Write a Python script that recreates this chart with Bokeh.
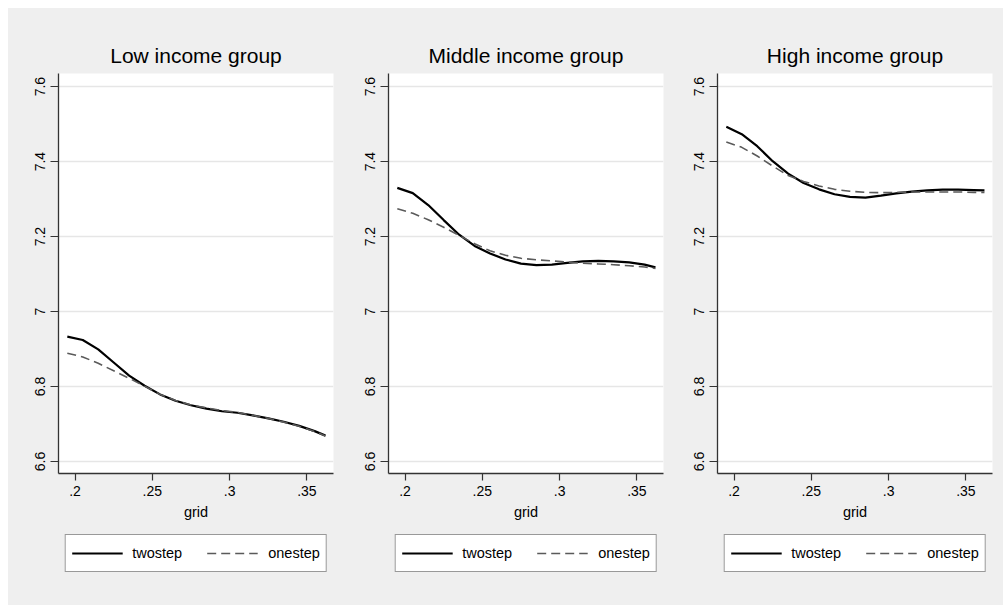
from bokeh.plotting import figure
from bokeh.layouts import row, column
from bokeh.models import (Range1d, FixedTicker, Legend, LegendItem)
from bokeh.embed import file_html
from bokeh.resources import INLINE

# ---- data ----
grid = [0.195, 0.205, 0.215, 0.225, 0.235, 0.245, 0.255, 0.265, 0.275,
        0.285, 0.295, 0.305, 0.315, 0.325, 0.335, 0.345, 0.355, 0.362]

low_twostep = [6.933, 6.924, 6.899, 6.864, 6.829, 6.802, 6.779, 6.762, 6.750,
               6.741, 6.734, 6.730, 6.723, 6.715, 6.706, 6.695, 6.681, 6.669]
low_onestep = [6.889, 6.879, 6.862, 6.842, 6.822, 6.801, 6.779, 6.763, 6.751,
               6.743, 6.736, 6.731, 6.723, 6.715, 6.705, 6.694, 6.680, 6.668]

mid_twostep = [7.330, 7.316, 7.284, 7.244, 7.205, 7.175, 7.155, 7.139, 7.128,
               7.124, 7.125, 7.130, 7.134, 7.135, 7.134, 7.131, 7.125, 7.118]
mid_onestep = [7.274, 7.262, 7.245, 7.225, 7.203, 7.181, 7.162, 7.150, 7.142,
               7.138, 7.135, 7.132, 7.129, 7.127, 7.125, 7.122, 7.119, 7.115]

high_twostep = [7.493, 7.473, 7.441, 7.401, 7.368, 7.343, 7.326, 7.313, 7.306,
                7.304, 7.309, 7.315, 7.320, 7.323, 7.325, 7.325, 7.324, 7.323]
high_onestep = [7.452, 7.438, 7.415, 7.388, 7.363, 7.347, 7.335, 7.326, 7.321,
                7.318, 7.317, 7.318, 7.319, 7.319, 7.319, 7.319, 7.318, 7.318]

panel_titles = ["Low income group", "Middle income group", "High income group"]
series_names = ["twostep", "onestep"]
x_ticks = [0.2, 0.25, 0.3, 0.35]
x_tick_labels = [".2", ".25", ".3", ".35"]
y_ticks = [6.6, 6.8, 7.0, 7.2, 7.4, 7.6]
y_tick_labels = ["6.6", "6.8", "7", "7.2", "7.4", "7.6"]
x_label = "grid"

panels = [(low_twostep, low_onestep), (mid_twostep, mid_onestep),
          (high_twostep, high_onestep)]

FONT = "Liberation Sans"
BG = "#efefef"
TWO_STYLE = dict(line_color="black", line_width=2.2)
ONE_STYLE = dict(line_color="#5a5a5a", line_width=1.6, line_dash="9 5")
X_RANGE = (0.1893, 0.3672)
Y_RANGE = (6.568, 7.635)

borders_left = [50, 50, 49]
borders_right = [5, 5, 11]

figs = []
legs = []
for i, (two, one) in enumerate(panels):
    p = figure(frame_width=275, frame_height=400, output_backend="svg",
               toolbar_location=None,
               x_range=Range1d(*X_RANGE), y_range=Range1d(*Y_RANGE),
               min_border_left=borders_left[i], min_border_right=borders_right[i],
               min_border_top=65, min_border_bottom=55)
    p.border_fill_color = BG
    p.background_fill_color = "white"
    p.outline_line_color = None

    p.title.text = panel_titles[i]
    p.title.align = "center"
    p.title.text_font = FONT
    p.title.text_font_size = "21px"
    p.title.text_font_style = "normal"
    p.title.text_color = "black"
    p.title.standoff = 13

    # axes
    for ax in (p.xaxis[0], p.yaxis[0]):
        ax.axis_line_color = "#333333"
        ax.axis_line_width = 1.3
        ax.major_tick_line_color = "#333333"
        ax.major_tick_line_width = 1.2
        ax.major_tick_in = 0
        ax.minor_tick_line_color = None
        ax.major_label_text_font = FONT
        ax.major_label_text_font_size = "14px"
        ax.major_label_text_color = "black"
    p.xaxis[0].major_tick_out = 7
    p.yaxis[0].major_tick_out = 8
    p.xaxis[0].ticker = FixedTicker(ticks=x_ticks)
    p.xaxis[0].major_label_overrides = dict(zip(x_ticks, x_tick_labels))
    p.yaxis[0].ticker = FixedTicker(ticks=y_ticks)
    p.yaxis[0].major_label_overrides = dict(zip(y_ticks, y_tick_labels))
    p.yaxis[0].major_label_orientation = "vertical"
    p.xaxis[0].major_label_standoff = 5
    p.yaxis[0].major_label_standoff = 5
    p.xaxis[0].axis_label = x_label
    p.xaxis[0].axis_label_text_font = FONT
    p.xaxis[0].axis_label_text_font_size = "14.5px"
    p.xaxis[0].axis_label_text_font_style = "normal"
    p.xaxis[0].axis_label_text_color = "black"
    p.xaxis[0].axis_label_standoff = 5

    p.xgrid.grid_line_color = None
    p.ygrid.grid_line_color = "#e6e6e6"
    p.ygrid.grid_line_width = 1.5
    p.ygrid.ticker = FixedTicker(ticks=y_ticks)

    p.line(grid, two, **TWO_STYLE)
    p.line(grid, one, **ONE_STYLE)
    figs.append(p)

    # legend strip below the panel; its key renderers reuse the series but
    # the strip's y range lies far outside the data, so only the keys show
    q = figure(frame_width=275, frame_height=50, output_backend="svg",
               toolbar_location=None, x_axis_location=None,
               y_axis_location=None,
               x_range=Range1d(*X_RANGE), y_range=Range1d(0, 1),
               min_border_left=borders_left[i], min_border_right=borders_right[i],
               min_border_top=0, min_border_bottom=27)
    q.border_fill_color = BG
    q.background_fill_color = BG
    q.outline_line_color = None
    q.xgrid.visible = False
    q.ygrid.visible = False
    k_two = q.line(grid, two, **TWO_STYLE)
    k_one = q.line(grid, one, **ONE_STYLE)
    leg = Legend(items=[LegendItem(label=series_names[0], renderers=[k_two]),
                        LegendItem(label=series_names[1], renderers=[k_one])],
                 orientation="horizontal", location="center",
                 glyph_width=51, glyph_height=24, label_height=24,
                 label_standoff=10, spacing=25, padding=6, margin=0,
                 border_line_color="#333333", border_line_width=1.2,
                 background_fill_color="white", background_fill_alpha=1,
                 label_text_font=FONT, label_text_font_size="14.5px",
                 label_text_color="black")
    q.add_layout(leg, "center")
    legs.append(q)

layout = column(row(figs, spacing=0), row(legs, spacing=0), spacing=0,
                margin=(8, 0, 0, 8), styles={"background-color": BG})
open("out.html", "w").write(file_html(layout, INLINE))
